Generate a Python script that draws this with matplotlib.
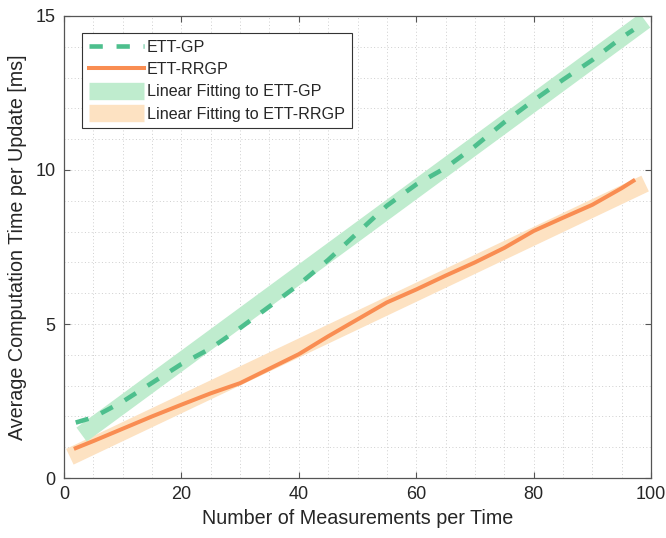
import numpy as np
import matplotlib
matplotlib.use('Agg')
import matplotlib.pyplot as plt
from matplotlib.ticker import MultipleLocator

plt.rcParams['font.family'] = ['Liberation Sans', 'DejaVu Sans']

# --- data ---
n_meas = [2, 5, 10, 15, 20, 25, 30, 35, 40, 45, 50, 55, 60, 65, 70, 75, 80, 85, 90, 95, 97]
t_gp = [1.80, 1.97, 2.48, 3.09, 3.70, 4.21, 4.87, 5.57, 6.28, 7.08, 7.96, 8.84, 9.53,
        10.07, 10.77, 11.55, 12.26, 12.93, 13.57, 14.30, 14.55]
t_rrgp = [0.97, 1.20, 1.60, 2.00, 2.38, 2.75, 3.08, 3.55, 4.02, 4.60, 5.15, 5.70, 6.12,
          6.57, 7.00, 7.47, 8.02, 8.45, 8.87, 9.41, 9.65]

# linear fits (end points)
fit_gp_x = [3, 99]
fit_gp_y = [1.41, 14.85]
fit_rrgp_x = [1, 99]
fit_rrgp_y = [0.69, 9.56]

# colours
c_gp = '#4dbf8d'
c_rrgp = '#f98d52'
c_gp_fit = '#bfecce'
c_rrgp_fit = '#fde2c2'
txt = '#262626'

fig = plt.figure(figsize=(6.66, 5.38), dpi=100)
ax = fig.add_axes([0.0961, 0.1115, 0.8814, 0.8588])

l_gp, = ax.plot(n_meas, t_gp, color=c_gp, lw=3.3, dashes=(2.9, 3.0),
                dash_capstyle='butt', zorder=3, label='ETT-GP')
l_rr, = ax.plot(n_meas, t_rrgp, color=c_rrgp, lw=2.9, zorder=3, label='ETT-RRGP')
f_gp, = ax.plot(fit_gp_x, fit_gp_y, color=c_gp_fit, lw=12.5, solid_capstyle='butt',
                zorder=2, label='Linear Fitting to ETT-GP')
f_rr, = ax.plot(fit_rrgp_x, fit_rrgp_y, color=c_rrgp_fit, lw=12.5, solid_capstyle='butt',
                zorder=1, label='Linear Fitting to ETT-RRGP')

ax.set_xlim(0, 100)
ax.set_ylim(0, 15)
ax.xaxis.set_major_locator(MultipleLocator(20))
ax.xaxis.set_minor_locator(MultipleLocator(5))
ax.yaxis.set_major_locator(MultipleLocator(5))
ax.yaxis.set_minor_locator(MultipleLocator(1))
ax.grid(True, which='both', color='#cfcfcf', lw=0.7, dashes=(1, 2.5))
ax.set_axisbelow(True)
ax.tick_params(which='major', direction='in', length=4, width=0.8, colors='#555555',
               labelcolor=txt, labelsize=13, top=True, right=True, pad=6)
ax.tick_params(which='minor', length=0)
for s in ax.spines.values():
    s.set_color('#555555')
    s.set_linewidth(0.9)

ax.set_xlabel('Number of Measurements per Time', fontsize=14.2, color=txt, labelpad=4)
ax.set_ylabel('Average Computation Time per Update [ms]', fontsize=14.2, color=txt, labelpad=6)

leg = ax.legend(handles=[l_gp, l_rr, f_gp, f_rr], loc='upper left',
                bbox_to_anchor=(0.0307, 0.963), borderaxespad=0, fontsize=11.6,
                handlelength=3.4, handletextpad=0.2, labelspacing=0.45,
                fancybox=False, framealpha=1, edgecolor='#333333', borderpad=0.42)
leg.get_frame().set_linewidth(0.8)
for t in leg.get_texts():
    t.set_color(txt)

fig.savefig('out.png', dpi=100)
